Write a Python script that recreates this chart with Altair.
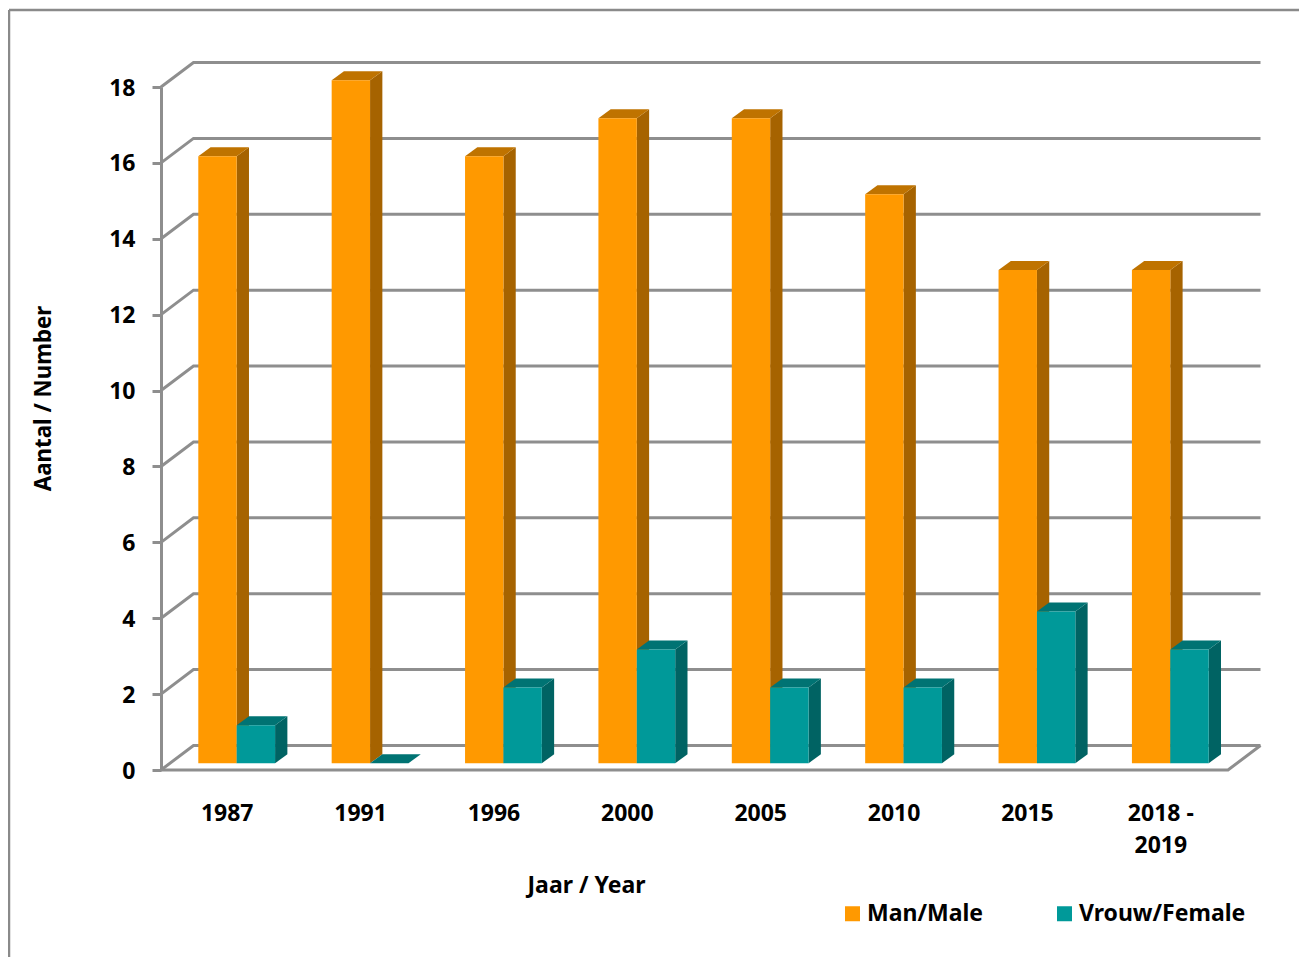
import json
import altair as alt
import pandas as pd

categories = ["1987", "1991", "1996", "2000", "2005", "2010", "2015", "2018 - 2019"]
category_lines = [["1987"], ["1991"], ["1996"], ["2000"], ["2005"], ["2010"], ["2015"], ["2018 -", "2019"]]
man = [16, 18, 16, 17, 17, 15, 13, 13]
vrouw = [1, 0, 2, 3, 2, 2, 4, 3]
series_names = ["Man/Male", "Vrouw/Female"]
y_ticks = list(range(0, 19, 2))

FRONT = ["#FF9900", "#009999"]
SIDE = ["#A66300", "#006363"]
TOP = ["#BF7300", "#007373"]
GRID = "#8E8E8E"
FONT = "Noto Sans"
FS = 23

PX_X = 133.4    # pixels per category slot
PX_Y = 37.93    # pixels per unit
W = 1067
H = 683
FLOOR_DX = 32.5 / PX_X
FLOOR_DY = 24.5 / PX_Y
BAR_LEFT = 37.3 / PX_X
BAR_W = 38.4 / PX_X
BAR_BASE = 6.7 / PX_Y
BAR_DX = 12.3 / PX_X
BAR_DY = 9.0 / PX_Y

x_scale = alt.Scale(domain=[0, 8], nice=False, zero=False)
y_scale = alt.Scale(domain=[0, 18], nice=False, zero=False)

x_axis = alt.Axis(
    values=[i + 0.5 for i in range(8)], labelExpr=f"{json.dumps(category_lines)}[floor(datum.value)]",
    domain=False, ticks=False, grid=False,
    labelPadding=32, labelOffset=-1, labelFontSize=FS, labelFont=FONT, labelFontWeight="bold", labelColor="black",
    labelLineHeight=32, labelOverlap=False, labelFlush=False,
    title="Jaar / Year", titleFont=FONT, titleFontSize=FS, titleFontWeight="bold", titleColor="black",
    titleX=425, titleY=115, titleAlign="center", titleBaseline="middle",
)
y_axis = alt.Axis(
    values=y_ticks, domain=True, domainColor=GRID, domainWidth=3, ticks=True, tickColor=GRID,
    tickWidth=3, tickSize=9, grid=False, labelPadding=17, labelFontSize=FS, labelFont=FONT,
    labelFontWeight="bold", labelColor="black", labelOffset=1,
    title="Aantal / Number", titleFont=FONT, titleFontSize=22.3, titleFontWeight="bold", titleColor="black",
    titleX=-118, titleY=311, titleAlign="center", titleBaseline="middle",
)

# gridlines: front edge -> back edge -> right end
grid_rows = []
for t in y_ticks:
    grid_rows += [
        {"level": t, "o": 0, "x": 0, "y": t},
        {"level": t, "o": 1, "x": FLOOR_DX, "y": t + FLOOR_DY},
        {"level": t, "o": 2, "x": 8 + FLOOR_DX, "y": t + FLOOR_DY},
    ]
floor_rows = [
    {"o": 0, "x": 0, "y": 0},
    {"o": 1, "x": 8, "y": 0},
    {"o": 2, "x": 8 + FLOOR_DX, "y": FLOOR_DY},
]

front_rows, side_rows, top_rows = [], [], []
for s, vals in enumerate([man, vrouw]):
    for i, v in enumerate(vals):
        l = i + BAR_LEFT + s * BAR_W
        r = l + BAR_W
        b = BAR_BASE
        t = v + BAR_BASE
        front_rows.append({"series": series_names[s], "l": l, "r": r, "b": b, "t": t})
        side_rows += [
            {"s": s, "cat": i, "x": r, "y": b, "y2": t},
            {"s": s, "cat": i, "x": r + BAR_DX, "y": b + BAR_DY, "y2": t + BAR_DY},
        ]
        top_rows += [
            {"s": s, "cat": i, "y": t, "x": l, "x2": r},
            {"s": s, "cat": i, "y": t + BAR_DY, "x": l + BAR_DX, "x2": r + BAR_DX},
        ]
side_df = pd.DataFrame(side_rows)
top_df = pd.DataFrame(top_rows)

grid = alt.Chart(pd.DataFrame(grid_rows)).mark_line(color=GRID, strokeWidth=3).encode(
    x=alt.X("x:Q", scale=x_scale, axis=x_axis),
    y=alt.Y("y:Q", scale=y_scale, axis=y_axis),
    detail="level:N",
    order="o:Q",
)
floor = alt.Chart(pd.DataFrame(floor_rows)).mark_line(color=GRID, strokeWidth=3).encode(
    x=alt.X("x:Q", scale=x_scale, axis=x_axis),
    y=alt.Y("y:Q", scale=y_scale, axis=y_axis),
    order="o:Q",
)

faces = []
for s in range(2):
    faces.append(
        alt.Chart(side_df[side_df.s == s]).mark_area(color=SIDE[s], orient="vertical").encode(
            x=alt.X("x:Q", scale=x_scale, axis=x_axis),
            y=alt.Y("y:Q", scale=y_scale, axis=y_axis, stack=None),
            y2="y2:Q",
            detail="cat:N",
        )
    )
    faces.append(
        alt.Chart(top_df[top_df.s == s]).mark_area(color=TOP[s], orient="horizontal").encode(
            y=alt.Y("y:Q", scale=y_scale, axis=y_axis),
            x=alt.X("x:Q", scale=x_scale, axis=x_axis, stack=None),
            x2="x2:Q",
            detail="cat:N",
        )
    )

front = alt.Chart(pd.DataFrame(front_rows)).mark_rect().encode(
    x=alt.X("l:Q", scale=x_scale, axis=x_axis),
    x2="r:Q",
    y=alt.Y("b:Q", scale=y_scale, axis=y_axis),
    y2="t:Q",
    color=alt.Color("series:N", scale=alt.Scale(domain=series_names, range=FRONT), legend=alt.Legend(
        title=None, orient="none", legendX=680, legendY=815, direction="horizontal", columns=2,
        symbolType="square", symbolSize=225, symbolStrokeWidth=0, columnPadding=69, labelOffset=3,
        labelLimit=400,
        labelFont=FONT, labelFontSize=FS, labelFontWeight="bold", labelColor="black", symbolOpacity=1,
    )),
)

frame_top = alt.Chart(pd.DataFrame({"a": [0]})).mark_rule(color="#8A8A8A", strokeWidth=2.5).encode(
    x=alt.value(-152), x2=alt.value(1138), y=alt.value(-77))
frame_left = alt.Chart(pd.DataFrame({"a": [0]})).mark_rule(color="#8A8A8A", strokeWidth=2.5).encode(
    x=alt.value(-152), y=alt.value(-77), y2=alt.value(870))

chart = alt.layer(frame_top, frame_left, grid, floor, *faces, front).properties(
    width=W, height=H, autosize="none",
    padding={"left": 153, "top": 79, "right": 71, "bottom": 187},
    background="white",
).configure_view(stroke=None)

chart.save("out.html", embed_options={"renderer": "svg", "actions": False})
